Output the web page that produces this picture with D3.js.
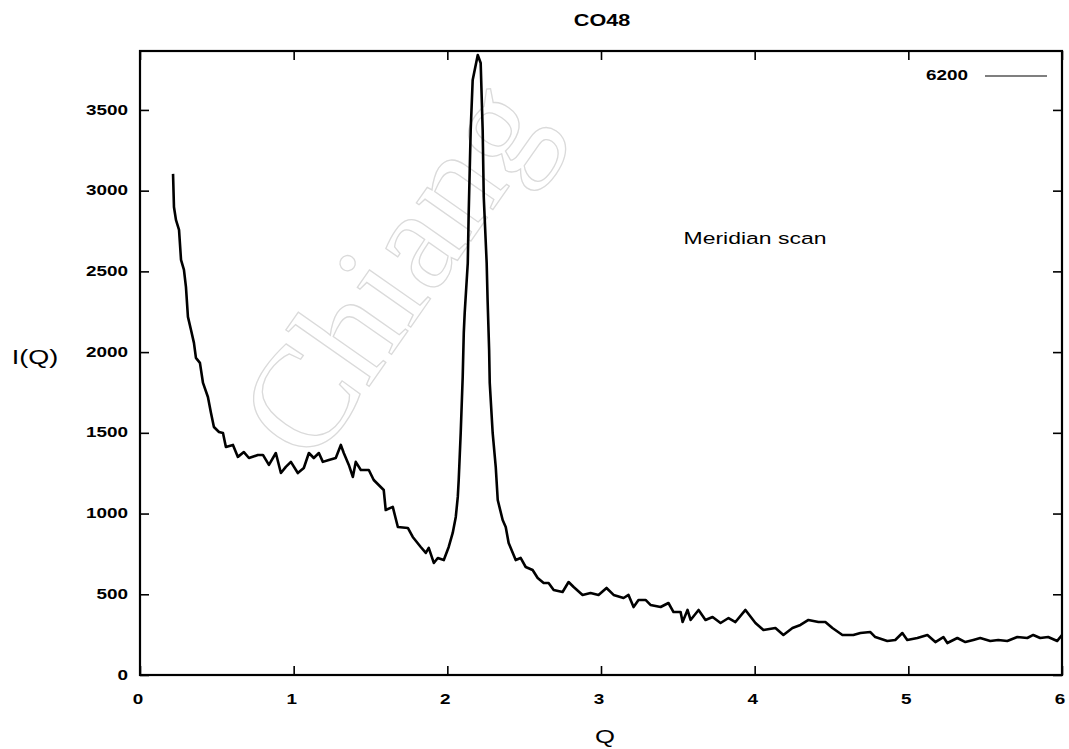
<!DOCTYPE html>
<html>
<head>
<meta charset="utf-8">
<script src="https://cdn.jsdelivr.net/npm/d3@7"></script>
<style>
  html, body { margin: 0; padding: 0; background: #fff; }
  svg { display: block; }
</style>
</head>
<body>
<svg id="chart" width="1069" height="749"></svg>
<script>
// Meridian scan intensity I(Q) for sample CO48, run 6200
const qValues = [
  0.215, 0.221, 0.234, 0.254, 0.267, 0.286, 0.299, 0.312, 0.332, 0.351,
  0.364, 0.390, 0.410, 0.442, 0.462, 0.481, 0.514, 0.540, 0.559, 0.605,
  0.637, 0.676, 0.709, 0.767, 0.800, 0.839, 0.884, 0.917, 0.949, 0.982,
  1.027, 1.066, 1.099, 1.131, 1.164, 1.190, 1.229, 1.274, 1.307, 1.326,
  1.359, 1.385, 1.404, 1.437, 1.489, 1.521, 1.586, 1.599, 1.645, 1.678,
  1.743, 1.775, 1.827, 1.860, 1.879, 1.912, 1.938, 1.977, 2.009, 2.035,
  2.055, 2.068, 2.074, 2.087, 2.100, 2.107, 2.113, 2.133, 2.139, 2.152,
  2.165, 2.198, 2.217, 2.230, 2.237, 2.256, 2.262, 2.268, 2.272, 2.276,
  2.295, 2.315, 2.328, 2.360, 2.380, 2.399, 2.445, 2.477, 2.510, 2.555,
  2.588, 2.627, 2.659, 2.692, 2.750, 2.789, 2.822, 2.880, 2.932, 2.984,
  3.036, 3.082, 3.147, 3.179, 3.212, 3.244, 3.290, 3.322, 3.388, 3.439,
  3.472, 3.518, 3.531, 3.563, 3.583, 3.635, 3.680, 3.726, 3.778, 3.830,
  3.875, 3.940, 4.005, 4.057, 4.135, 4.187, 4.246, 4.298, 4.350, 4.415,
  4.460, 4.506, 4.571, 4.642, 4.688, 4.753, 4.785, 4.863, 4.915, 4.961,
  4.993, 5.059, 5.124, 5.176, 5.228, 5.254, 5.319, 5.371, 5.423, 5.468,
  5.533, 5.585, 5.644, 5.709, 5.774, 5.813, 5.858, 5.910, 5.969, 6.000
];
const intensity = [
  3104, 2899, 2819, 2757, 2571, 2509, 2404, 2218, 2137, 2057,
  1964, 1933, 1809, 1722, 1623, 1536, 1505, 1499, 1412, 1425,
  1351, 1381, 1344, 1363, 1363, 1301, 1375, 1251, 1289, 1320,
  1251, 1282, 1375, 1344, 1375, 1320, 1332, 1344, 1425, 1375,
  1301, 1227, 1320, 1270, 1270, 1208, 1146, 1022, 1041,  917,
   911,  855,  793,  756,  787,  694,  725,  712,  793,  880,
   979, 1103, 1208, 1499, 1846, 2119, 2243, 2552, 2862, 3376,
  3686, 3840, 3791, 3376, 2961, 2552, 2323, 2137, 2013, 1809,
  1499, 1289, 1084,  960,  917,  818,  712,  725,  669,  650,
   601,  570,  570,  527,  514,  576,  545,  496,  508,  496,
   539,  496,  477,  496,  421,  465,  465,  434,  421,  446,
   390,  390,  328,  403,  341,  403,  341,  359,  322,  353,
   328,  403,  322,  279,  291,  248,  291,  310,  341,  328,
   328,  291,  248,  248,  260,  266,  235,  211,  217,  260,
   217,  229,  248,  204,  235,  198,  229,  204,  217,  229,
   211,  217,  211,  235,  229,  248,  229,  235,  211,  248
];

const xTicks = [0, 1, 2, 3, 4, 5, 6];
const yTicks = [0, 500, 1000, 1500, 2000, 2500, 3000, 3500];
const xDomain = [0, 6];
const yDomain = [0, 3865];

const titleText = "CO48";
const seriesName = "6200";
const xLabel = "Q";
const yLabel = "I(Q)";
const noteText = "Meridian scan";
const watermarkText = "Chiang";

const svg = d3.select("#chart");
const plot = { left: 140, right: 1062, top: 51, bottom: 675 };
const stretch = 1.35;   // printed type runs wide

const x = d3.scaleLinear().domain(xDomain).range([plot.left, plot.right]);
const y = d3.scaleLinear().domain(yDomain).range([plot.bottom, plot.top]);

// faint outlined watermark behind everything
svg.append("text")
  .attr("transform", "translate(312,468) rotate(-55)")
  .attr("font-family", "Liberation Serif, serif")
  .attr("font-size", 145)
  .attr("fill", "none")
  .attr("stroke", "#dadada")
  .attr("stroke-width", 1.3)
  .text(watermarkText);

// wide-set text helper
function wideText(sel, tx, ty, str, opts) {
  return sel.append("text")
    .attr("transform", `translate(${tx},${ty}) scale(${stretch},1)`)
    .attr("text-anchor", opts.anchor || "middle")
    .attr("dominant-baseline", "central")
    .attr("font-family", "Liberation Sans, Arial, sans-serif")
    .attr("font-weight", opts.bold ? "bold" : "normal")
    .attr("font-size", opts.size)
    .attr("fill", "#000")
    .text(str);
}

// axes with inward ticks, mirrored on all four sides
const tickLen = 9;
const axisBottom = d3.axisBottom(x).tickValues(xTicks).tickSizeInner(-tickLen).tickSizeOuter(0).tickFormat("");
const axisTop = d3.axisTop(x).tickValues(xTicks).tickSizeInner(-tickLen).tickSizeOuter(0).tickFormat("");
const axisLeft = d3.axisLeft(y).tickValues(yTicks).tickSizeInner(-tickLen).tickSizeOuter(0).tickFormat("");
const axisRight = d3.axisRight(y).tickValues(yTicks).tickSizeInner(-tickLen).tickSizeOuter(0).tickFormat("");

function styleAxis(g) {
  g.select(".domain").remove();
  g.selectAll(".tick line").attr("stroke", "#000").attr("stroke-width", 1.6);
}
svg.append("g").attr("transform", `translate(0,${plot.bottom})`).call(axisBottom).call(styleAxis);
svg.append("g").attr("transform", `translate(0,${plot.top})`).call(axisTop).call(styleAxis);
svg.append("g").attr("transform", `translate(${plot.left},0)`).call(axisLeft).call(styleAxis);
svg.append("g").attr("transform", `translate(${plot.right},0)`).call(axisRight).call(styleAxis);

// frame
svg.append("rect")
  .attr("x", plot.left).attr("y", plot.top)
  .attr("width", plot.right - plot.left).attr("height", plot.bottom - plot.top)
  .attr("fill", "none").attr("stroke", "#000").attr("stroke-width", 2.2);

// tick labels
xTicks.forEach(v => wideText(svg, x(v) - 2, 699, String(v), { bold: true, size: 14 }));
yTicks.forEach(v => wideText(svg, 128, y(v), String(v), { bold: true, size: 14, anchor: "end" }));

// data curve
const points = qValues.map((q, i) => [q, intensity[i]]);
const line = d3.line().x(d => x(d[0])).y(d => y(d[1]));
svg.append("path")
  .datum(points)
  .attr("d", line)
  .attr("fill", "none")
  .attr("stroke", "#000")
  .attr("stroke-width", 2.6)
  .attr("stroke-linejoin", "round");

// legend
wideText(svg, 968, 75, seriesName, { bold: true, size: 14, anchor: "end" });
svg.append("line")
  .attr("x1", 985).attr("x2", 1047).attr("y1", 76).attr("y2", 76)
  .attr("stroke", "#000").attr("stroke-width", 1.2);

// titles and annotations
wideText(svg, 602, 21, titleText, { bold: true, size: 16 });
wideText(svg, 605, 737, xLabel, { size: 19 });
wideText(svg, 35, 357, yLabel, { size: 20 });
wideText(svg, 755, 238, noteText, { size: 17 });
</script>
</body>
</html>
